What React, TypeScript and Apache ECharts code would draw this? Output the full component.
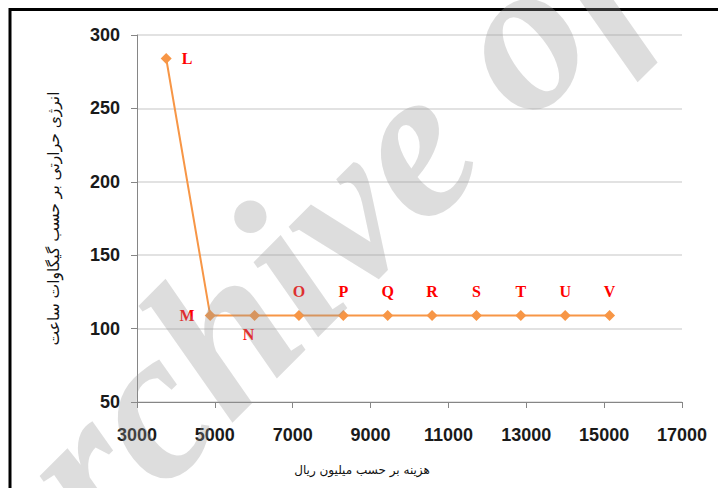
import React, { useEffect, useRef } from "react";
import * as echarts from "echarts";

const costs = [3750, 4880, 6020, 7160, 8300, 9440, 10580, 11720, 12860, 14000, 15140];
const energy = [284, 109, 109, 109, 109, 109, 109, 109, 109, 109, 109];
const pointNames = ["L", "M", "N", "O", "P", "Q", "R", "S", "T", "U", "V"];
const xTitle = "هزینه بر حسب میلیون ریال";
const yTitle = "انرژی حرارتی بر حسب گیگاوات ساعت";
const watermark = "Archive of SID";

const labelPos: Record<string, any> = {
  L: { position: "right", distance: 10 },
  M: { position: "left", distance: 10 },
  N: { position: "bottom", distance: 6, offset: [-6, 0] },
};

export default function App() {
  const ref = useRef<HTMLDivElement>(null);
  useEffect(() => {
    const chart = echarts.init(ref.current!, null, { renderer: "svg" });
    const data = costs.map((c, i) => {
      const lp = labelPos[pointNames[i]] || { position: "top", distance: 10 };
      return {
        value: [c, energy[i]],
        name: pointNames[i],
        label: { ...lp },
      };
    });
    chart.setOption({
      animation: false,
      backgroundColor: "#ffffff",
      grid: { left: 137, right: 36, top: 35, bottom: 86 },
      xAxis: {
        type: "value",
        min: 3000,
        max: 17000,
        interval: 2000,
        axisLine: { show: true, lineStyle: { color: "#868686", width: 1 } },
        axisTick: { show: true, length: 6, lineStyle: { color: "#868686" } },
        splitLine: { show: false },
        axisLabel: {
          margin: 24,
          color: "#1a1a1a",
          fontSize: 18,
          fontWeight: "bold",
          fontFamily: "Liberation Sans",
          formatter: (v: number) => String(v),
        },
      },
      yAxis: {
        type: "value",
        min: 50,
        max: 300,
        interval: 50,
        axisLine: { show: true, lineStyle: { color: "#868686", width: 1 } },
        axisTick: { show: true, length: 6, lineStyle: { color: "#868686" } },
        splitLine: { show: true, lineStyle: { color: "#d9d9d9", width: 1.5 } },
        axisLabel: {
          margin: 17,
          color: "#1a1a1a",
          fontSize: 18,
          fontWeight: "bold",
          fontFamily: "Liberation Sans",
        },
        name: yTitle,
        nameLocation: "middle",
        nameGap: 75,
        nameRotate: 90,
        nameTextStyle: { color: "#111", fontSize: 15.5, fontFamily: "DejaVu Sans" },
      },
      series: [
        {
          type: "line",
          data,
          symbol: "diamond",
          symbolSize: 11,
          itemStyle: { color: "#f79646" },
          lineStyle: { color: "#f79646", width: 2 },
          label: {
            show: true,
            formatter: (p: any) => p.name,
            color: "#ff0000",
            fontSize: 16,
            fontWeight: "bold",
            fontFamily: "Liberation Serif",
          },
          z: 3,
        },
      ],
      graphic: [
        {
          type: "text",
          x: 362,
          y: 470,
          style: {
            text: xTitle,
            fill: "#111",
            fontSize: 12,
            fontFamily: "DejaVu Sans",
            textAlign: "center",
            textVerticalAlign: "middle",
          },
        },
        {
          type: "rect",
          shape: { x: 10, y: 9.5, width: 720, height: 500 },
          style: { fill: "none", stroke: "#000", lineWidth: 3 },
        },
        {
          type: "text",
          x: -50,
          y: 602,
          rotation: Math.PI / 4,
          z: 100,
          silent: true,
          style: {
            text: watermark,
            fill: "rgba(150,150,150,0.32)",
            fontSize: 215,
            fontStyle: "italic",
            fontWeight: "bold",
            fontFamily: "Liberation Serif",
            textAlign: "left",
            textVerticalAlign: "middle",
          },
        },
      ],
    });
    return () => chart.dispose();
  }, []);
  return (
    <div
      ref={ref}
      style={{ position: "fixed", left: 0, top: 0, width: 718, height: 488 }}
    />
  );
}
